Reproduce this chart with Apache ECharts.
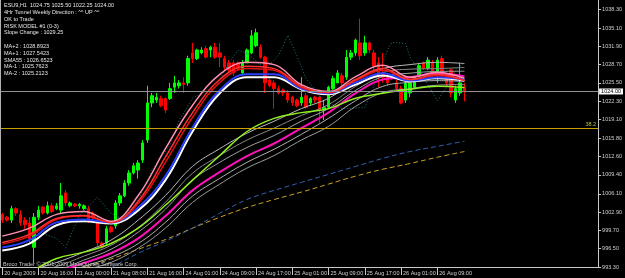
<!DOCTYPE html>
<html><head><meta charset="utf-8">
<script src="https://cdn.jsdelivr.net/npm/echarts@6/dist/echarts.min.js"></script>
<style>html,body{margin:0;padding:0;background:#000;}#c{width:625px;height:278px;}</style>
</head><body><div id="c"></div>
<script>
// ---- data ----
const xLabels = ["20 Aug 2009","20 Aug 16:00","21 Aug 00:00","21 Aug 08:00","21 Aug 16:00","24 Aug 01:00","24 Aug 09:00","24 Aug 17:00","25 Aug 01:00","25 Aug 09:00","25 Aug 17:00","26 Aug 01:00","26 Aug 09:00"];
const yTicks = [993.3,996.5,999.7,1002.9,1006.1,1009.4,1012.6,1015.8,1019.1,1022.3,1025.5,1028.7,1031.9,1035.1,1038.3];
// [open, high, low, close]
const ohlc = [
[1002.5,1002.75,1001.0,1001.5],[1002.0,1002.25,1001.25,1001.5],[1001.5,1004.0,1001.0,1003.5],[1003.5,1003.75,1002.25,1002.75],
[1002.5,1003.25,1000.5,1001.0],[1001.5,1002.0,1000.0,1000.75],[1001.0,1002.0,997.5,998.25],[996.75,1002.75,994.0,1002.0],
[1002.0,1004.0,1001.5,1003.25],[1003.75,1004.0,1002.5,1002.75],[1002.75,1004.75,1002.5,1004.0],[1004.0,1004.5,1002.75,1003.0],
[1003.5,1004.5,1003.25,1004.0],[1003.25,1008.0,1002.75,1005.75],[1006.25,1006.75,1004.0,1004.5],[1004.0,1004.75,1003.75,1004.5],
[1004.25,1004.5,1003.75,1004.0],[1004.0,1004.5,1003.5,1004.25],[1003.5,1004.25,1003.25,1004.0],[1003.5,1004.0,1001.0,1001.5],
[1002.5,1003.0,1001.5,1002.0],[1001.5,1002.25,996.75,997.5],[997.5,997.75,996.5,996.75],[997.5,1000.5,997.0,1000.0],
[1000.25,1000.5,999.25,999.5],[1000.5,1005.0,1000.0,1004.5],[1004.5,1006.25,1004.0,1005.75],[1005.75,1008.5,1005.5,1008.0],
[1008.0,1010.25,1007.5,1009.75],[1009.75,1011.5,1009.5,1011.0],[1010.25,1012.0,1008.75,1011.5],[1012.0,1015.5,1011.5,1015.0],
[1015.5,1025.0,1015.0,1022.0],[1022.0,1023.75,1021.25,1023.25],[1022.5,1023.75,1022.0,1023.0],[1022.75,1023.25,1021.25,1021.5],
[1022.75,1023.0,1020.25,1020.75],[1022.75,1025.5,1022.5,1024.5],[1024.75,1026.75,1023.75,1025.5],[1025.0,1026.0,1024.5,1025.5],
[1025.5,1026.5,1023.75,1025.25],[1025.5,1030.25,1025.0,1029.75],[1030.75,1032.5,1029.0,1029.75],[1029.75,1031.5,1029.5,1031.25],
[1030.75,1031.75,1030.5,1031.25],[1031.5,1032.0,1029.75,1030.0],[1031.25,1032.0,1030.0,1031.75],[1031.75,1032.5,1029.75,1030.0],
[1030.75,1032.5,1028.25,1030.0],[1029.75,1030.25,1027.75,1028.25],[1029.0,1029.5,1027.25,1027.75],[1029.0,1029.5,1026.75,1027.25],
[1029.0,1029.25,1027.75,1028.0],[1027.25,1029.5,1027.0,1029.0],[1029.0,1031.5,1029.0,1031.25],[1030.75,1034.75,1030.5,1033.75],
[1032.0,1035.0,1031.75,1034.25],[1031.75,1032.25,1029.75,1030.0],[1030.0,1030.25,1023.75,1025.5],[1026.0,1026.25,1024.75,1025.0],
[1025.5,1026.0,1021.0,1024.5],[1024.5,1025.0,1023.5,1023.75],[1024.25,1024.5,1023.25,1023.75],[1023.75,1024.25,1022.0,1022.5],
[1023.0,1023.25,1021.5,1022.0],[1022.5,1022.75,1021.25,1021.5],[1022.0,1026.5,1021.5,1023.0],[1023.25,1023.75,1021.0,1021.25],
[1022.0,1023.0,1021.5,1022.75],[1023.0,1023.25,1022.0,1022.5],[1023.0,1023.25,1018.5,1020.75],[1020.75,1022.5,1019.0,1021.25],
[1021.25,1025.0,1021.0,1024.75],[1024.5,1026.75,1024.25,1026.25],[1025.5,1027.75,1025.5,1027.25],[1026.75,1027.25,1025.0,1025.5],
[1026.5,1031.25,1026.0,1030.0],[1030.0,1031.25,1029.5,1030.75],[1030.75,1033.25,1030.25,1033.0],[1032.5,1036.75,1029.5,1030.25],
[1030.75,1033.75,1030.25,1032.5],[1032.5,1032.75,1030.75,1031.25],[1030.75,1031.25,1027.75,1028.5],[1029.0,1030.0,1024.75,1026.75],
[1027.25,1030.75,1025.5,1026.5],[1026.75,1027.25,1025.0,1025.5],[1026.5,1027.0,1026.0,1026.25],[1025.5,1026.0,1024.25,1024.5],
[1024.5,1025.0,1021.75,1022.0],[1022.5,1025.75,1022.0,1025.5],[1023.75,1026.0,1023.0,1025.5],[1024.75,1026.75,1024.5,1026.5],
[1026.75,1029.0,1026.5,1028.5],[1029.0,1029.25,1027.75,1028.0],[1028.0,1030.0,1027.75,1029.5],[1029.0,1029.5,1026.75,1027.25],
[1027.25,1030.0,1025.5,1029.5],[1029.75,1030.25,1026.5,1026.75],[1026.5,1026.75,1025.0,1025.5],[1027.75,1028.0,1023.0,1023.75],
[1022.5,1025.0,1022.0,1024.5],[1023.75,1029.0,1023.25,1025.5],[1024.75,1025.5,1022.25,1024.0]
];
// moving averages sampled at these bar indices
const maIdx = [0,6,12,18,24,30,36,42,48,54,60,66,72,78,84,90,96,102];
const maPink  = [998.7,1000.1,1002.5,1003.0,1001.3,1005.8,1014.0,1021.6,1027.0,1029.1,1028.7,1025.2,1024.0,1026.6,1028.6,1026.5,1027.3,1026.3];
const maRed   = [997.6,999.0,1001.8,1002.3,1001.1,1004.8,1012.5,1020.3,1026.1,1028.4,1028.0,1024.9,1023.8,1026.1,1028.0,1026.1,1027.0,1025.9];
const maRed2  = [997.3,998.7,1001.6,1002.2,1001.1,1004.4,1011.6,1019.5,1025.6,1028.0,1027.7,1024.7,1023.8,1025.9,1027.7,1026.1,1026.8,1025.9];
const maBlue  = [996.7,998.0,1001.1,1001.6,1001.1,1003.7,1009.2,1017.7,1024.2,1027.0,1027.0,1024.5,1023.7,1025.6,1027.2,1025.9,1026.5,1026.1];
const maWhite = [996.2,997.4,1000.6,1001.3,1000.9,1003.2,1008.5,1017.0,1023.7,1026.5,1026.5,1024.4,1023.5,1025.2,1026.8,1025.8,1026.3,1025.9];
const maLime  = [990.0,992.4,994.8,995.9,997.4,1000.1,1004.1,1008.5,1012.8,1017.0,1019.3,1020.3,1021.0,1022.8,1023.7,1024.4,1024.9,1024.7];
const sma55   = [989.2,990.6,992.4,994.0,995.7,998.3,1002.2,1006.7,1009.9,1012.7,1014.9,1017.6,1020.3,1023.7,1026.1,1026.5,1027.2,1026.65];
const maPlus2 = [991.3,992.7,994.1,995.9,998.0,1001.5,1005.8,1010.9,1014.0,1016.7,1018.8,1021.0,1022.8,1025.9,1028.0,1028.7,1029.1,1028.89];
const maGray  = [990.8,992.2,993.4,995.2,997.1,1000.2,1004.6,1009.7,1012.8,1015.5,1017.6,1019.8,1021.7,1024.9,1027.3,1027.9,1028.0,1028.2];
const maPlus1 = [990.3,991.7,992.7,994.5,996.4,999.4,1003.4,1008.5,1011.6,1014.2,1016.3,1018.8,1021.0,1024.2,1026.6,1027.2,1027.5,1027.54];
const maMinus1= [988.9,990.1,991.7,993.4,995.0,997.4,1001.1,1005.7,1008.8,1011.6,1013.9,1016.5,1019.3,1022.4,1024.9,1025.6,1025.9,1025.76];
const maMinus2= [988.2,989.4,991.0,992.7,994.1,996.6,1000.1,1004.6,1007.8,1010.6,1012.8,1015.5,1017.9,1021.4,1023.8,1024.5,1025.1,1025.21];
const dashBlue   = [null,null,null,990.1,993.1,995.7,997.8,1000.1,1002.7,1005.1,1006.7,1008.1,1009.5,1010.9,1012.3,1013.5,1014.4,1015.3];
const dashYellow = [null,null,991.0,993.1,994.7,996.4,998.1,1000.1,1002.0,1003.7,1005.1,1006.4,1007.8,1009.2,1010.4,1011.4,1012.5,1013.5];
// dotted tunnel line
const dotIdx = [2,8,12,14,17,21,24,27,30,33,37,39,42,44,47,50,52,54,58,61,63,65,67,71,75,80,83,85,86,89,90,93,96,98,100,102];
const dotVal = [998.0,999.4,998.3,996.7,1002.3,1005.5,1002.7,1001.5,1005.0,1010.2,1014.6,1018.9,1022.8,1023.7,1024.7,1028.9,1031.2,1030.7,1028.0,1030.3,1033.8,1030.3,1026.3,1022.4,1021.0,1021.2,1026.8,1031.2,1032.6,1032.4,1030.0,1026.5,1022.4,1024.7,1027.7,1029.1];
const lastPrice = 1024.00;
const fibLevel = 1017.5;
const infoLines = [
 ["ESU9,H1  1024.75 1025.50 1022.25 1024.00", 5.7],
 ["4Hr Tunnel Weekly Direction : ^^ UP ^^", 12.5],
 ["OK to Trade", 19.3],
 ["RISK MODEL #1 (0-3)", 26.1],
 ["Slope Change : 1029.25", 32.9],
 ["MA+2 : 1028.8923", 46.5],
 ["MA+1 : 1027.5423", 53.3],
 ["SMA55 : 1026.6523", 60.1],
 ["MA-1 : 1025.7623", 66.9],
 ["MA-2 : 1025.2123", 73.7]
];
const copyright = "Broco Trader \u00a9 2001-2009 MetaQuotes Software Corp.";

// ---- build ----
const NCAT = 132;
const cats = Array.from({length: NCAT}, (_, i) => String(i));
const FONT = 'Liberation Sans';
function pairs(arr){ const out=[]; maIdx.forEach((i,k)=>{ if(arr[k]!=null) out.push([i, arr[k]]); }); return out; }
function lineS(arr, color, width, type, z){
  return {type:'line', data: pairs(arr), showSymbol:false, smooth:0.4, silent:true, z: z||3,
    lineStyle:{color:color, width:width, type: type||'solid'}};
}
const chart = echarts.init(document.getElementById('c'), null, {renderer:'canvas'});
const option = {
  animation:false,
  backgroundColor:'#000000',
  grid:{left:0, right:22, top:0, bottom:11, containLabel:false},
  xAxis:{type:'category', data:cats, boundaryGap:true,
    axisLine:{show:true, lineStyle:{color:'#c8c8c8', width:1}},
    axisTick:{show:true, alignWithLabel:true, length:8, interval:(i)=> i%8===0 && i/8 < xLabels.length, lineStyle:{color:'#c8c8c8'}},
    axisLabel:{show:true, interval:(i)=> i%8===0 && i/8 < xLabels.length, formatter:(v, i)=> xLabels[i/8] || '',
      align:'left', margin:3, padding:[0,0,0,2], color:'#d0d0d0', fontSize:5.5, fontFamily:FONT},
    splitLine:{show:false}},
  yAxis:{type:'value', position:'right', min:993.3, max:1040.0, scale:true,
    axisLine:{show:true, lineStyle:{color:'#c8c8c8', width:1}},
    axisTick:{show:true, length:3, customValues:yTicks, lineStyle:{color:'#c8c8c8'}},
    axisLabel:{show:true, customValues:yTicks, formatter:(v)=> v.toFixed(2), margin:4, color:'#d0d0d0', fontSize:5.5, fontFamily:FONT},
    splitLine:{show:false}},
  graphic:[
    {type:'line', shape:{x1:0.5,y1:0,x2:0.5,y2:267}, style:{stroke:'#b0b0b0', lineWidth:1}, silent:true, z:10},
    ...infoLines.map(([t,y])=>({type:'text', x:4, y:y, silent:true, z:20,
       style:{text:t, fill:'#e8e8e8', fontSize:5.5, fontFamily:FONT, verticalAlign:'middle', align:'left'}})),
    {type:'text', x:3, y:264, silent:true, z:20,
       style:{text:copyright, fill:'#c8c8c8', fontSize:5.5, fontFamily:FONT, verticalAlign:'middle', align:'left'}}
  ],
  series:[
    {type:'candlestick', barWidth:3, silent:true, z:2,
     data: ohlc.map(r=>[r[0], r[3], r[2], r[1]]),
     itemStyle:{color:'#00ff00', color0:'#ff0000', borderColor:'#00ff00', borderColor0:'#ff0000', borderWidth:1},
     markLine:{symbol:'none', silent:true, animation:false,
       data:[
        {yAxis:lastPrice, lineStyle:{color:'#909090', width:1, type:'solid'},
         label:{show:true, position:'end', distance:1, formatter:()=> lastPrice.toFixed(2), color:'#000', backgroundColor:'#ffffff', padding:[0,2,0,2], fontSize:5.5, fontFamily:FONT}},
        {yAxis:fibLevel, lineStyle:{color:'#c8a000', width:1, type:'solid'},
         label:{show:true, position:'insideEndTop', distance:[2,1], formatter:'38.2', color:'#b8c030', fontSize:5.5, fontFamily:FONT}}
       ]}},
    {type:'line', data: dotIdx.map((i,k)=>[i, dotVal[k]]), showSymbol:false, smooth:false, silent:true, z:3,
     lineStyle:{color:'#1a7a80', width:1, type:[1,2]}},
    lineS(dashYellow, '#c8a028', 1, [5,3]),
    lineS(dashBlue, '#3060b0', 1, [5,3]),
    lineS(maMinus2, '#9a9a9a', 1),
    lineS(maMinus1, '#b0b0b0', 1),
    lineS(maPlus1, '#a0a0a0', 1),
    lineS(maGray, '#888888', 1),
    lineS(maPlus2, '#b8b8b8', 1),
    lineS(sma55, '#ff10b8', 2),
    lineS(maLime, '#90f020', 1.5),
    lineS(maWhite, '#ffffff', 2),
    lineS(maBlue, '#2a40ff', 2),
    lineS(maRed2, '#e01010', 1.5),
    lineS(maRed, '#ff3030', 1.5),
    lineS(maPink, '#ff90b0', 1.5)
  ]
};
chart.setOption(option);
</script>
</body></html>
